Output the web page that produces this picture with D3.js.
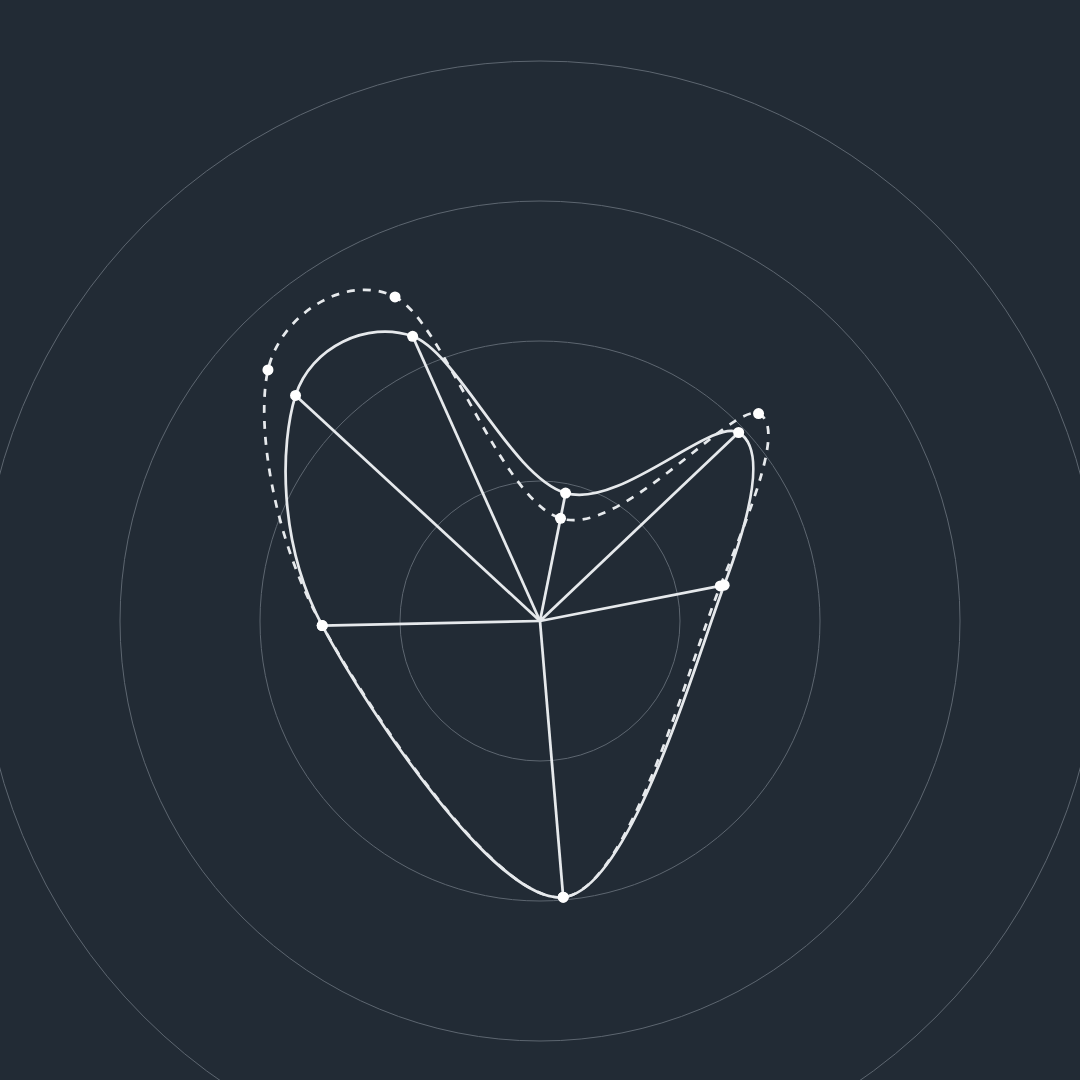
<!DOCTYPE html>
<html>
<head>
<meta charset="utf-8">
<script src="https://cdn.jsdelivr.net/npm/d3@7"></script>
<style>
    html, body { margin: 0; padding: 0; background: #222b35; }
    svg { display: block; }
</style>
</head>
<body>
<div id="chart"></div>
<script>
// bearing of each category, degrees clockwise from north
const categories = ["A", "B", "C", "D", "E", "F", "G"];
const bearings = [11.3, 46.5, 79.0, 175.2, 268.8, 312.7, 335.9];
const seriesSolid = [23.3, 48.9, 33.5, 49.5, 38.9, 59.4, 55.7];
const seriesDashed = [18.7, 53.8, 32.8, 49.5, 38.9, 66.1, 63.4];
const ringTicks = [25, 50, 75, 100];

const width = 1080, height = 1080;
const cx = 540, cy = 621;

const svg = d3.select("#chart")
    .append("svg")
    .attr("width", width)
    .attr("height", height);

svg.append("rect")
    .attr("width", width)
    .attr("height", height)
    .attr("fill", "#222b35");

const g = svg.append("g")
    .attr("transform", "translate(" + cx + "," + cy + ")");

const r = d3.scaleLinear().domain([0, 100]).range([0, 560]);
const angle = d3.scaleLinear().domain([0, 360]).range([0, 2 * Math.PI]);

// grid rings
g.append("g")
    .selectAll("circle")
    .data(ringTicks)
    .enter()
    .append("circle")
    .attr("r", d => r(d))
    .attr("fill", "none")
    .attr("stroke", "#5d6670")
    .attr("stroke-width", 1);

function toPoints(values) {
    return values.map((v, i) => ({cat: categories[i], a: angle(bearings[i]), v: v}));
}

const solid = toPoints(seriesSolid);
const dashed = toPoints(seriesDashed);

const line = d3.lineRadial()
    .angle(d => d.a)
    .radius(d => r(d.v))
    .curve(d3.curveCardinalClosed.tension(0));

// spokes to the solid series
g.append("g")
    .selectAll("line")
    .data(solid)
    .enter()
    .append("line")
    .attr("x1", 0)
    .attr("y1", 0)
    .attr("x2", d => r(d.v) * Math.sin(d.a))
    .attr("y2", d => -r(d.v) * Math.cos(d.a))
    .attr("stroke", "#e6e9ec")
    .attr("stroke-width", 2.75);

g.append("path")
    .datum(dashed)
    .attr("d", line)
    .attr("fill", "none")
    .attr("stroke", "#e6e9ec")
    .attr("stroke-width", 2.75)
    .attr("stroke-dasharray", "8,8");

g.append("path")
    .datum(solid)
    .attr("d", line)
    .attr("fill", "none")
    .attr("stroke", "#e6e9ec")
    .attr("stroke-width", 2.75);

// dots
[dashed, solid].forEach(series => {
    g.append("g")
        .selectAll("circle")
        .data(series)
        .enter()
        .append("circle")
        .attr("cx", d => r(d.v) * Math.sin(d.a))
        .attr("cy", d => -r(d.v) * Math.cos(d.a))
        .attr("r", 5.5)
        .attr("fill", "#ffffff");
});
</script>
</body>
</html>
